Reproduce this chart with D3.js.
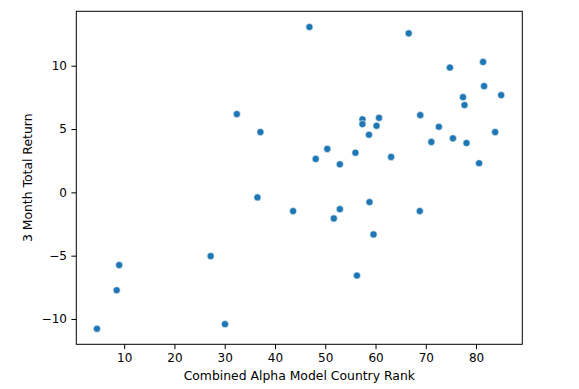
<!DOCTYPE html>
<meta charset="utf-8">
<style>
	body { margin: 0; background: #fff; }
	text { font-family: "DejaVu Sans", sans-serif; fill: #262626; }
	.axis path, .axis line { stroke: #000; stroke-width: 1; }
	.axis text { font-size: 12px; fill: #000; }
	.label { font-size: 12.4px; fill: #000; }
	.dot { fill: #1f77b4; stroke: #fff; stroke-width: 0.6; }
</style>
<body>
<script src="https://cdn.jsdelivr.net/npm/d3@7"></script>
<script>
var width = 579,
    height = 389;

// combined alpha model country rank
var rank = [32.4, 37.1, 36.5, 46.85, 66.6, 74.8, 81.4, 81.6, 85.0, 77.4,
            77.7, 57.4, 57.4, 60.7, 60.2, 58.7, 68.9, 72.6, 71.1, 75.4,
            78.1, 83.8, 50.4, 48.1, 52.9, 56.0, 63.1, 80.6, 43.6, 52.9,
            51.7, 58.8, 68.8, 59.6, 56.3, 27.2, 9.0, 8.5, 4.58, 30.05];
// 3 month total return
var ret = [6.18, 4.76, -0.4, 13.06, 12.56, 9.86, 10.3, 8.39, 7.68, 7.52,
           6.89, 5.76, 5.39, 5.89, 5.26, 4.55, 6.1, 5.18, 3.98, 4.27,
           3.9, 4.76, 3.43, 2.64, 2.22, 3.13, 2.8, 2.3, -1.48, -1.33,
           -2.06, -0.77, -1.48, -3.32, -6.57, -5.03, -5.74, -7.73, -10.77, -10.41];

var xTicks = [10, 20, 30, 40, 50, 60, 70, 80];
var yTicks = [-10, -5, 0, 5, 10];

var margin = {left: 76.3, right: 579 - 522.3, top: 11.3, bottom: 389 - 344.3};

var x = d3.scaleLinear()
    .domain([0.47, 89.2])
    .range([margin.left, width - margin.right]);
var y = d3.scaleLinear()
    .domain([-12.0, 14.3])
    .range([height - margin.bottom, margin.top]);

var svg = d3.select("body").append("svg")
    .attr("width", width)
    .attr("height", height);

svg.append("g")
    .attr("class", "axis")
    .attr("transform", "translate(0," + (height - margin.bottom) + ")")
    .call(d3.axisBottom(x).tickValues(xTicks).tickSize(4.9).tickPadding(4.5).tickSizeOuter(0))
    .call(function(g) { g.select(".domain").remove(); });

svg.append("g")
    .attr("class", "axis")
    .attr("transform", "translate(" + margin.left + ",0)")
    .call(d3.axisLeft(y).tickValues(yTicks).tickSize(4.9).tickPadding(4.5).tickSizeOuter(0))
    .call(function(g) { g.select(".domain").remove(); });

// frame
svg.append("rect")
    .attr("x", margin.left)
    .attr("y", margin.top)
    .attr("width", width - margin.left - margin.right)
    .attr("height", height - margin.top - margin.bottom)
    .attr("fill", "none")
    .attr("stroke", "#000")
    .attr("stroke-width", 1);

svg.append("g")
  .selectAll("circle").data(rank)
  .enter().append("circle")
    .attr("class", "dot")
    .attr("cx", function(d) { return x(d); })
    .attr("cy", function(d, i) { return y(ret[i]); })
    .attr("r", 3.6);

svg.append("text")
    .attr("class", "label")
    .attr("x", (margin.left + width - margin.right) / 2)
    .attr("y", 380)
    .attr("text-anchor", "middle")
    .text("Combined Alpha Model Country Rank");

svg.append("text")
    .attr("class", "label")
    .attr("transform", "translate(32," + ((margin.top + height - margin.bottom) / 2) + ") rotate(-90)")
    .attr("text-anchor", "middle")
    .text("3 Month Total Return");
</script>
